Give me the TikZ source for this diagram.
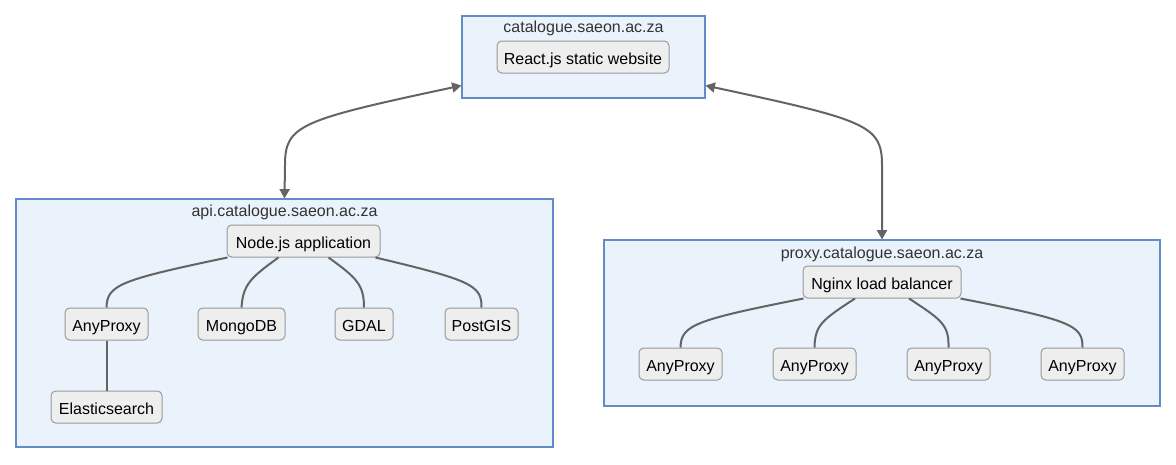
\documentclass[tikz,border=0pt]{standalone}
\usepackage{fontspec}
\setmainfont{Liberation Sans}
\usetikzlibrary{arrows.meta,calc}
\definecolor{clfill}{RGB}{234,242,251}
\definecolor{cldraw}{RGB}{96,140,200}
\definecolor{lffill}{RGB}{238,238,238}
\definecolor{lfdraw}{RGB}{153,153,153}
\definecolor{edge}{RGB}{100,100,100}
\definecolor{ttl}{RGB}{51,51,51}
\tikzset{
  cluster/.style={draw=cldraw, fill=clfill, line width=0.8pt, inner sep=0pt},
  cltitle/.style={text=ttl, font=\fontsize{12}{14}\selectfont, inner sep=0pt},
  leaf/.style={draw=lfdraw, fill=lffill, rounded corners=3.5pt, line width=0.75pt, inner sep=0pt, minimum height=24pt, text height=10.5pt, text depth=0pt, font=\fontsize{12}{14}\selectfont},
  link/.style={draw=edge, line width=1.5pt},
  biarrow/.style={link, {Triangle[length=7pt,width=7.5pt]}-{Triangle[length=7pt,width=7.5pt]}},
}
\begin{document}
\begin{tikzpicture}[x=0.75pt,y=-0.75pt]
\useasboundingbox (0,0) rectangle (1176,464);
% clusters
\node[cluster, minimum width=182.25pt, minimum height=61.5pt] (topc) at (583.5,57) {};
\node[cltitle] (toptitle) at (583.5,28.5) {catalogue.saeon.ac.za};
\node[cluster, minimum width=402.75pt, minimum height=186pt] (apic) at (284.5,323) {};
\node[cltitle] (apititle) at (284.5,212.5) {api.catalogue.saeon.ac.za};
\node[cluster, minimum width=417pt, minimum height=124.5pt] (proxyc) at (882,323) {};
\node[cltitle] (proxytitle) at (882,254.5) {proxy.catalogue.saeon.ac.za};
% leaves
\node[leaf, minimum width=129pt] (react) at (583,57) {React.js static website};
\node[leaf, minimum width=114.75pt] (nodejs) at (303.5,241) {Node.js application};
\node[leaf, minimum width=62.25pt] (anyp) at (106.5,324) {AnyProxy};
\node[leaf, minimum width=65.25pt] (mongo) at (241.5,324) {MongoDB};
\node[leaf, minimum width=43.5pt] (gdal) at (364,324) {GDAL};
\node[leaf, minimum width=54.75pt] (postgis) at (481.5,324) {PostGIS};
\node[leaf, minimum width=83.25pt] (elastic) at (106.5,407) {Elasticsearch};
\node[leaf, minimum width=118.5pt] (nginx) at (882,282) {Nginx load balancer};
\node[leaf, minimum width=62.25pt] (p1) at (680.5,364) {AnyProxy};
\node[leaf, minimum width=62.25pt] (p2) at (814.5,364) {AnyProxy};
\node[leaf, minimum width=62.25pt] (p3) at (948.5,364) {AnyProxy};
\node[leaf, minimum width=62.25pt] (p4) at (1082.5,364) {AnyProxy};
% cluster links
\draw[biarrow] ($(topc.south west)+(0,-13)$) .. controls (300,120) and (285,125) .. (285,165) -- ($(apic.north west)+(269,0)$);
\draw[biarrow] ($(topc.south east)+(0,-13)$) .. controls (866,120) and (882,125) .. (882,165) -- (proxyc.north);
% api links
\draw[link] ($(nodejs.south west)+(1,0)$) .. controls (120,280) and (107,285) .. (anyp.north);
\draw[link] ($(nodejs.south)+(-25,0)$) .. controls (250,278) and (243,285) .. (mongo.north);
\draw[link] ($(nodejs.south)+(25,0)$) .. controls (357,278) and (364,285) .. (gdal.north);
\draw[link] ($(nodejs.south east)+(-5,0)$) .. controls (470,280) and (482,285) .. (postgis.north);
\draw[link] (anyp.south) -- (elastic.north);
% proxy links
\draw[link] ($(nginx.south west)+(1,0)$) .. controls (695,320) and (681,325) .. (p1.north);
\draw[link] ($(nginx.south)+(-27,0)$) .. controls (822,320) and (815,325) .. (p2.north);
\draw[link] ($(nginx.south)+(27,0)$) .. controls (942,320) and (949,325) .. (p3.north);
\draw[link] ($(nginx.south east)+(-1,0)$) .. controls (1070,320) and (1083,325) .. (p4.north);
\end{tikzpicture}
\end{document}
